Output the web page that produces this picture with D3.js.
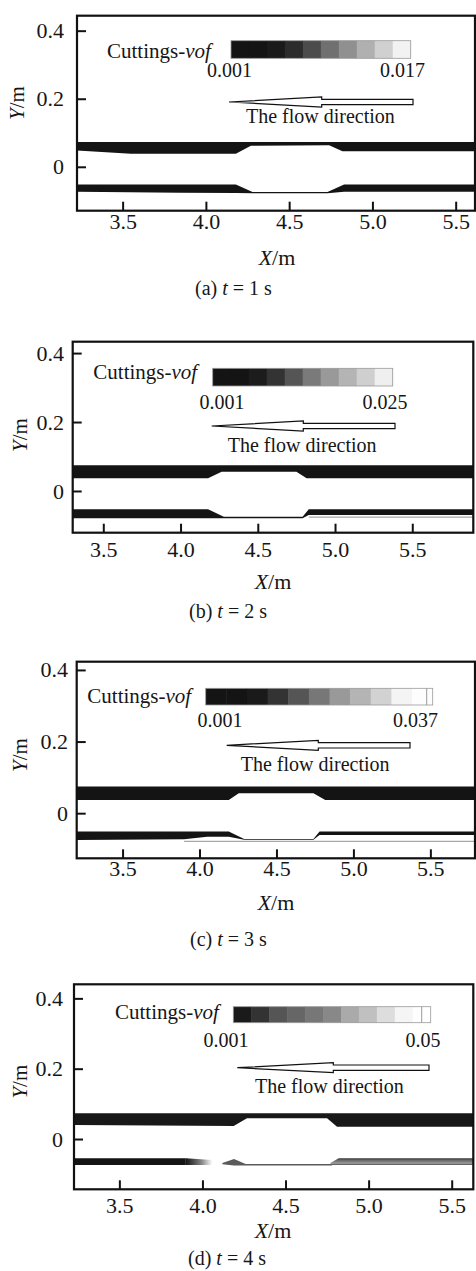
<!DOCTYPE html>
<html><head><meta charset="utf-8">
<script src="https://cdn.jsdelivr.net/npm/d3@7"></script>
<style>
html,body{margin:0;padding:0;background:#fff;}
svg{display:block;}
text{font-family:"Liberation Serif","Times New Roman",serif;fill:#161616;}
</style></head><body>
<svg id="chart" width="476" height="1271"></svg>
<script>
// ---------------- DATA ----------------
const panelIds = ["a", "b", "c", "d"];
const times = [1, 2, 3, 4];
const xTicks = [3.5, 4.0, 4.5, 5.0, 5.5];
const yTicks = [0, 0.2, 0.4];
const vofMinLabel = "0.001";
const vofMaxLabels = ["0.017", "0.025", "0.037", "0.05"];
const xDomains = [[3.226, 5.616], [3.302, 5.895], [3.202, 5.79], [3.227, 5.63]];
const yDomains = [[-0.129, 0.444], [-0.121, 0.433], [-0.126, 0.423], [-0.143, 0.44]];

// cuttings bands: [x, yTop, yBottom] (m)
const a_upper = [[3.2,0.073,0.049],[3.55,0.073,0.038],[4.18,0.073,0.038],[4.27,0.073,0.062],[4.74,0.073,0.063],[4.82,0.073,0.046],[5.7,0.073,0.046]];
const a_lower = [[3.2,-0.052,-0.073],[3.85,-0.052,-0.076],[4.18,-0.052,-0.077],[4.28,-0.074,-0.078],[4.73,-0.074,-0.078],[4.83,-0.052,-0.073],[5.7,-0.052,-0.073]];
const b_upper = [[3.3,0.075,0.037],[4.178,0.075,0.037],[4.266,0.075,0.056],[4.75,0.075,0.056],[4.816,0.075,0.037],[5.9,0.075,0.037]];
const b_lower = [[3.3,-0.053,-0.079],[4.178,-0.053,-0.079],[4.28,-0.0745,-0.079],[4.79,-0.0745,-0.079],[4.83,-0.053,-0.07],[5.9,-0.053,-0.07]];
const b_thin = [[4.83,5.9,-0.076]];
const c_upper = [[3.2,0.0743,0.037],[4.19,0.0743,0.037],[4.255,0.0743,0.056],[4.74,0.0743,0.056],[4.817,0.0743,0.037],[5.8,0.0743,0.037]];
const c_lower = [[3.2,-0.051,-0.075],[3.9,-0.051,-0.073],[4.05,-0.051,-0.066],[4.19,-0.051,-0.066],[4.29,-0.072,-0.074],[4.74,-0.072,-0.074],[4.78,-0.051,-0.061],[5.8,-0.051,-0.061]];
const c_thin = [[3.9,5.8,-0.079]];
const d_upper = [[3.2,0.073,0.04],[4.188,0.073,0.037],[4.268,0.073,0.059],[4.75,0.073,0.059],[4.81,0.073,0.035],[5.7,0.073,0.035]];
const d_lowerLeft = [[3.2,-0.055,-0.074],[3.9,-0.055,-0.074]];
const d_lowerFade = [[3.9,-0.055,-0.074],[4.06,-0.06,-0.074]];
const d_lowerTaper = [[4.12,-0.068,-0.072],[4.19,-0.057,-0.075],[4.26,-0.071,-0.075],[4.78,-0.071,-0.075]];
const d_lowerRight = [[4.77,-0.068,-0.074],[4.82,-0.055,-0.074],[5.7,-0.055,-0.074]];

// ---------------- LAYOUT / STYLE ----------------
const frames = [
  {l:77, t:15.7, r:475, b:210.7, xpad:3, ypad:13},
  {l:72.7, t:341.7, r:473.3, b:532.7, xpad:8.5, ypad:8.7},
  {l:76.7, t:661.7, r:475, b:858.3, xpad:2.5, ypad:8.7},
  {l:74, t:984.3, r:473.3, b:1189.3, xpad:8, ypad:11}
];
const legendBoxes = [
  {x0:231, x1:410.7, y0:40.7, y1:58.3, ttlX:107, ttlY:58, labY:76.7, minC:229.5, maxC:402.5, stripe:null},
  {x0:212.7, x1:392.7, y0:368.3, y1:386, ttlX:93.3, ttlY:379.3, labY:409.3, minC:222, maxC:385, stripe:null},
  {x0:205.7, x1:432.7, y0:688.3, y1:705, ttlX:87.3, ttlY:703.3, labY:726.7, minC:220, maxC:415.5, stripe:426.7},
  {x0:233.3, x1:430.7, y0:1006.7, y1:1022.7, ttlX:115, ttlY:1019, labY:1046.7, minC:226, maxC:423, stripe:421.7}
];
const arrows = [
  {tip:229, base:321.7, tail:413, cy:102, tx:246, ty:123},
  {tip:211.7, base:303.3, tail:395, cy:426, tx:227.7, ty:451.7},
  {tip:226.7, base:318.3, tail:410, cy:745.3, tx:240.7, ty:770.7},
  {tip:237.3, base:333.3, tail:429, cy:1067.7, tx:255, ty:1092.7}
];
const labelsPos = [
  {xlC:277, xlY:265, capX:195, capY:295, ylX:24, ylC:103},
  {xlC:273, xlY:589, capX:189, capY:618, ylX:27, ylC:435},
  {xlC:276, xlY:910, capX:190, capY:946, ylX:27, ylC:755},
  {xlC:273, xlY:1238, capX:188, capY:1265, ylX:27, ylC:1081.7}
];
const legendShades = [
  ["#141414","#141414","#1a1a1a","#2c2c2c","#4c4c4c","#707070","#909090","#b0b0b0","#d0d0d0","#f2f2f2"],
  ["#141414","#141414","#1c1c1c","#333","#555","#7a7a7a","#999","#b4b4b4","#cfcfcf","#efefef"],
  ["#141414","#141414","#1a1a1a","#333","#555","#777","#999","#b4b4b4","#d2d2d2","#f4f4f4","#fdfdfd"],
  ["#1a1a1a","#333","#555","#666","#777","#888","#aaa","#c0c0c0","#ddd","#f5f5f5","#fefefe"]
];
const BLACK = "#141414";

const svg = d3.select("#chart");
const defs = svg.append("defs");
const bandData = [
  [{pts:a_upper, fill:BLACK}, {pts:a_lower, fill:BLACK}],
  [{pts:b_upper, fill:BLACK}, {pts:b_lower, fill:BLACK}],
  [{pts:c_upper, fill:BLACK}, {pts:c_lower, fill:BLACK}],
  [{pts:d_upper, fill:"#181818"}, {pts:d_lowerLeft, fill:BLACK}, {pts:d_lowerFade, fill:"url(#fadeD)"},
   {pts:d_lowerTaper, fill:"#5a5a5a"}, {pts:d_lowerRight, fill:"url(#greyD)"}]
];
const thinData = [[], b_thin, c_thin, []];

panelIds.forEach((id, i) => {
  const f = frames[i];
  const x = d3.scaleLinear().domain(xDomains[i]).range([f.l, f.r]);
  const y = d3.scaleLinear().domain(yDomains[i]).range([f.b, f.t]);
  const g = svg.append("g");

  defs.append("clipPath").attr("id", "clip" + id)
    .append("rect").attr("x", f.l).attr("y", f.t).attr("width", f.r - f.l).attr("height", f.b - f.t);

  if (id === "d") {
    const fg = defs.append("linearGradient").attr("id", "fadeD").attr("gradientUnits", "userSpaceOnUse")
      .attr("x1", x(3.9)).attr("x2", x(4.06)).attr("y1", 0).attr("y2", 0);
    fg.append("stop").attr("offset", 0).attr("stop-color", BLACK);
    fg.append("stop").attr("offset", 0.6).attr("stop-color", "#888");
    fg.append("stop").attr("offset", 1).attr("stop-color", "#fff");
    const gg = defs.append("linearGradient").attr("id", "greyD").attr("gradientUnits", "userSpaceOnUse")
      .attr("x1", 0).attr("x2", 0).attr("y1", y(-0.055)).attr("y2", y(-0.074));
    gg.append("stop").attr("offset", 0).attr("stop-color", "#3a3a3a");
    gg.append("stop").attr("offset", 0.3).attr("stop-color", "#6a6a6a");
    gg.append("stop").attr("offset", 0.75).attr("stop-color", "#9a9a9a");
    gg.append("stop").attr("offset", 1).attr("stop-color", "#4a4a4a");
  }

  const area = d3.area().x(d => x(d[0])).y0(d => y(d[2])).y1(d => y(d[1]));
  const bands = g.append("g").attr("clip-path", `url(#clip${id})`);
  bands.selectAll("path.band").data(bandData[i]).join("path")
    .attr("class", "band").attr("d", d => area(d.pts)).attr("fill", d => d.fill);
  bands.selectAll("line.thin").data(thinData[i]).join("line")
    .attr("class", "thin")
    .attr("x1", d => x(d[0])).attr("x2", d => x(d[1]))
    .attr("y1", d => y(d[2])).attr("y2", d => y(d[2]))
    .attr("stroke", "#a8a8a8").attr("stroke-width", 1.2);

  // axes
  const xa = g.append("g").attr("transform", `translate(0,${f.b})`)
    .call(d3.axisBottom(x).tickValues(xTicks).tickSize(-9).tickPadding(f.xpad).tickFormat(d3.format(".1f")));
  const ya = g.append("g").attr("transform", `translate(${f.l},0)`)
    .call(d3.axisLeft(y).tickValues(yTicks).tickSize(-9).tickPadding(f.ypad).tickFormat(d => d === 0 ? "0" : d3.format(".1f")(d)));
  [xa, ya].forEach(a => {
    a.attr("font-family", null);
    a.select(".domain").remove();
    a.selectAll(".tick line").attr("stroke", "#111").attr("stroke-width", 2);
    a.selectAll(".tick text").attr("font-size", 22).attr("fill", "#161616");
  });

  g.append("rect").attr("x", f.l).attr("y", f.t).attr("width", f.r - f.l).attr("height", f.b - f.t)
    .attr("fill", "none").attr("stroke", "#111").attr("stroke-width", 2.2);

  // legend
  const lb = legendBoxes[i];
  const shades = legendShades[i];
  const ls = d3.scaleBand().domain(d3.range(shades.length)).range([lb.x0, lb.x1]);
  g.selectAll("rect.leg").data(shades).join("rect").attr("class", "leg")
    .attr("x", (d, k) => ls(k)).attr("width", ls.bandwidth() + 0.5)
    .attr("y", lb.y0).attr("height", lb.y1 - lb.y0).attr("fill", d => d);
  g.append("rect").attr("x", lb.x0).attr("y", lb.y0).attr("width", lb.x1 - lb.x0).attr("height", lb.y1 - lb.y0)
    .attr("fill", "none").attr("stroke", "#999").attr("stroke-width", 0.8);
  if (lb.stripe !== null) {
    g.append("line").attr("x1", lb.stripe).attr("x2", lb.stripe)
      .attr("y1", lb.y0).attr("y2", lb.y1).attr("stroke", "#999").attr("stroke-width", 1);
  }
  const ttl = g.append("text").attr("x", lb.ttlX).attr("y", lb.ttlY).attr("font-size", 21);
  ttl.append("tspan").text("Cuttings-");
  ttl.append("tspan").attr("font-style", "italic").text("vof");
  g.append("text").attr("x", lb.minC).attr("y", lb.labY).attr("text-anchor", "middle").attr("font-size", 20).text(vofMinLabel);
  g.append("text").attr("x", lb.maxC).attr("y", lb.labY).attr("text-anchor", "middle").attr("font-size", 20).text(vofMaxLabels[i]);

  // flow arrow
  const ar = arrows[i];
  const hh = 5, sh = 2.7;
  const pts = [[ar.tip, ar.cy], [ar.base, ar.cy - hh], [ar.base, ar.cy - sh], [ar.tail, ar.cy - sh],
               [ar.tail, ar.cy + sh], [ar.base, ar.cy + sh], [ar.base, ar.cy + hh]];
  g.append("path").attr("d", d3.line()(pts) + "Z").attr("fill", "#fff").attr("stroke", "#111").attr("stroke-width", 1.2);
  g.append("text").attr("x", ar.tx).attr("y", ar.ty).attr("font-size", 20).text("The flow direction");

  // axis titles and caption
  const lp = labelsPos[i];
  const xl = g.append("text").attr("x", lp.xlC).attr("y", lp.xlY).attr("text-anchor", "middle").attr("font-size", 22);
  xl.append("tspan").attr("font-style", "italic").text("X");
  xl.append("tspan").text("/m");
  const yl = g.append("text").attr("transform", `translate(${lp.ylX},${lp.ylC}) rotate(-90)`)
    .attr("text-anchor", "middle").attr("font-size", 21);
  yl.append("tspan").attr("font-style", "italic").text("Y");
  yl.append("tspan").text("/m");
  const cap = g.append("text").attr("x", lp.capX).attr("y", lp.capY).attr("font-size", 20);
  cap.append("tspan").text(`(${id}) `);
  cap.append("tspan").attr("font-style", "italic").text("t");
  cap.append("tspan").text(` = ${times[i]} s`);
});
</script>
</body></html>
